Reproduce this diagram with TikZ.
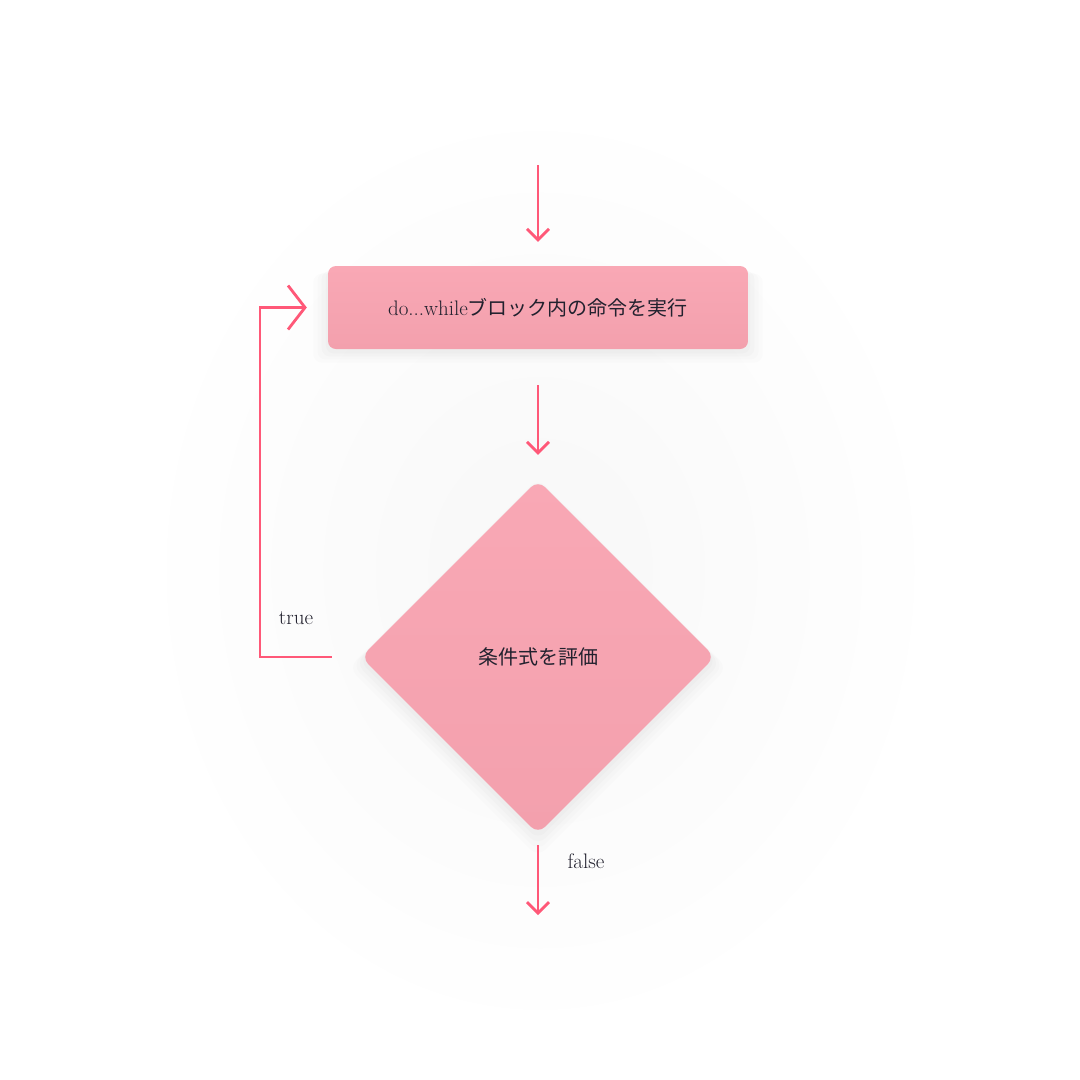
\documentclass[tikz,border=0pt]{standalone}
\usepackage{fontspec}
\newfontfamily\cjk{Noto Sans CJK JP}
\usepackage{tikz}
\usetikzlibrary{arrows.meta,positioning,shapes.geometric,shadows}

\definecolor{flowpink}{HTML}{F9A8B5}
\definecolor{flowpinkdark}{HTML}{F3A0AD}
\definecolor{flowline}{HTML}{FF5878}
\definecolor{flowtext}{HTML}{22212E}

\newcommand{\jp}[1]{{\cjk\fontsize{20}{24}\selectfont #1}}

\begin{document}
\begin{tikzpicture}[
			x=1pt, y=-1pt,
			every node/.style={font=\fontsize{21}{25}\selectfont, text=flowtext},
			soft shadow/.style={
				drop shadow={opacity=0.025, shadow xshift=0pt, shadow yshift=-10pt, shadow scale=1.07},
				drop shadow={opacity=0.025, shadow xshift=0pt, shadow yshift=-8pt, shadow scale=1.05},
				drop shadow={opacity=0.03, shadow xshift=0pt, shadow yshift=-6pt, shadow scale=1.03},
				drop shadow={opacity=0.03, shadow xshift=0pt, shadow yshift=-4pt, shadow scale=1.01}},
			block/.style={rectangle, rounded corners=8pt, minimum width=420pt, minimum height=83pt,
				top color=flowpink, bottom color=flowpinkdark, draw=none, soft shadow},
			decision/.style={diamond, aspect=1, minimum size=354pt, inner sep=0pt, rounded corners=10pt,
				top color=flowpink, bottom color=flowpinkdark, draw=none, soft shadow},
			flow/.style={draw=flowline, line width=2.8pt, -{Straight Barb[length=11pt,width=22pt]}},
			loopflow/.style={draw=flowline, line width=2.8pt, -{Straight Barb[length=17pt,width=44pt]}}
			]

			% background
			\fill[white] (0,0) rectangle (1080,1080);
			\shade[inner color=black!3, outer color=white] (540,570) ellipse (400 and 470);
			\useasboundingbox (0,0) rectangle (1080,1080);

			\node[block] (body) at (538,307.5) {do...while\jp{ブロック内の命令を実行}};
			\node[decision] (cond) at (538,657) {\jp{条件式を評価}};

			\coordinate (entry) at (538,165);
			\coordinate (exit) at (538,915);
			\coordinate (back) at (260,657);

			\draw[flow, shorten >=24pt] (entry) -- (body.north);
			\draw[flow, shorten <=36pt, shorten >=25pt] (body.south) -- (cond.north);
			\draw[flow, shorten <=11pt] (cond.south) -- (exit);
			\draw[loopflow, shorten <=29pt, shorten >=21pt] (cond.west) -- (back) |- (body.west);

			\node (truelabel) at (296,618) {true};
			\node (falselabel) at (586,861) {false};

			\end{tikzpicture}
\end{document}
